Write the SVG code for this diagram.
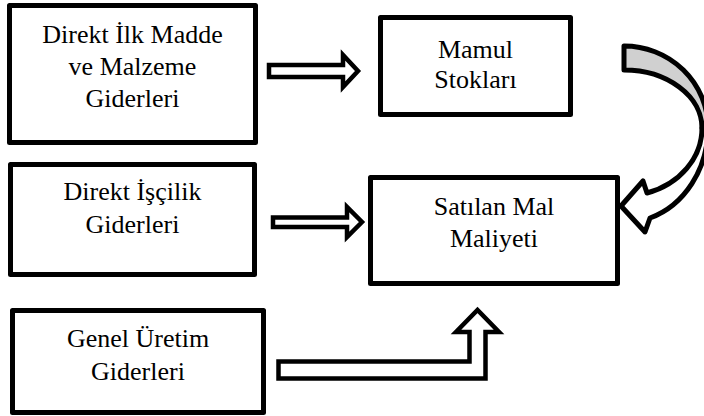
<svg xmlns="http://www.w3.org/2000/svg" width="704" height="416" viewBox="0 0 704 416">
  <style>
    .box { fill: #ffffff; stroke: #000000; stroke-width: 5; stroke-linejoin: round; }
    .lbl { font-size: 26px; fill: #000000; text-anchor: middle; }
    .arrow { fill: #ffffff; stroke: #000000; stroke-width: 4.5; stroke-linejoin: miter; }
    .back { fill: #d0d0d0; stroke: #000000; stroke-width: 5; stroke-linejoin: round; }
  </style>
  <rect width="704" height="416" fill="#ffffff"/>

  <!-- cost items -->
  <g font-family="'Liberation Serif', 'DejaVu Serif', serif">
  <g id="direkt-ilk-madde">
    <rect class="box" x="9.5" y="5.5" width="246" height="137"/>
    <text class="lbl" x="132.5" y="43">Direkt İlk Madde</text>
    <text class="lbl" x="132.5" y="75">ve Malzeme</text>
    <text class="lbl" x="132.5" y="107">Giderleri</text>
  </g>
  <g id="mamul-stoklari">
    <rect class="box" x="380.5" y="17.5" width="190" height="97"/>
    <text class="lbl" x="475.5" y="58">Mamul</text>
    <text class="lbl" x="475.5" y="88">Stokları</text>
  </g>
  <g id="direkt-iscilik">
    <rect class="box" x="10.5" y="164.5" width="244" height="110"/>
    <text class="lbl" x="132.5" y="200">Direkt İşçilik</text>
    <text class="lbl" x="132.5" y="233">Giderleri</text>
  </g>
  <g id="satilan-mal-maliyeti">
    <rect class="box" x="370.5" y="177.5" width="247" height="106"/>
    <text class="lbl" x="494" y="215">Satılan Mal</text>
    <text class="lbl" x="494" y="247">Maliyeti</text>
  </g>
  <g id="genel-uretim">
    <rect class="box" x="12.5" y="310.5" width="251" height="102"/>
    <text class="lbl" x="138" y="347">Genel Üretim</text>
    <text class="lbl" x="138" y="380">Giderleri</text>
  </g>
  </g>

  <!-- block arrows -->
  <g id="connectors">
    <polygon class="arrow" points="269,65 343,65 343,55 358,71 343,87 343,77 269,77"/>
    <polygon class="arrow" points="273,217.5 347,217.5 347,207 362,222 347,237 347,227 273,227"/>
    <polygon class="arrow" points="278.5,361.5 469.5,361.5 469.5,332 456,332 477.5,310 499,332 485.5,332 485.5,378.5 278.5,378.5"/>
    <!-- curved arrow: shaded back face, then front face with head -->
    <path class="back" d="M624,46 A84,82 0 0 1 708,128 L702,128 A78,58 0 0 0 624,70 Z"/>
    <path class="arrow" style="stroke-width:5;stroke-linejoin:round" d="M708,128 A84,95 0 0 1 650,218 L645,232 L621,206 L643,181 L647,193 A78,68 0 0 0 702,128 Z"/>
  </g>
</svg>
